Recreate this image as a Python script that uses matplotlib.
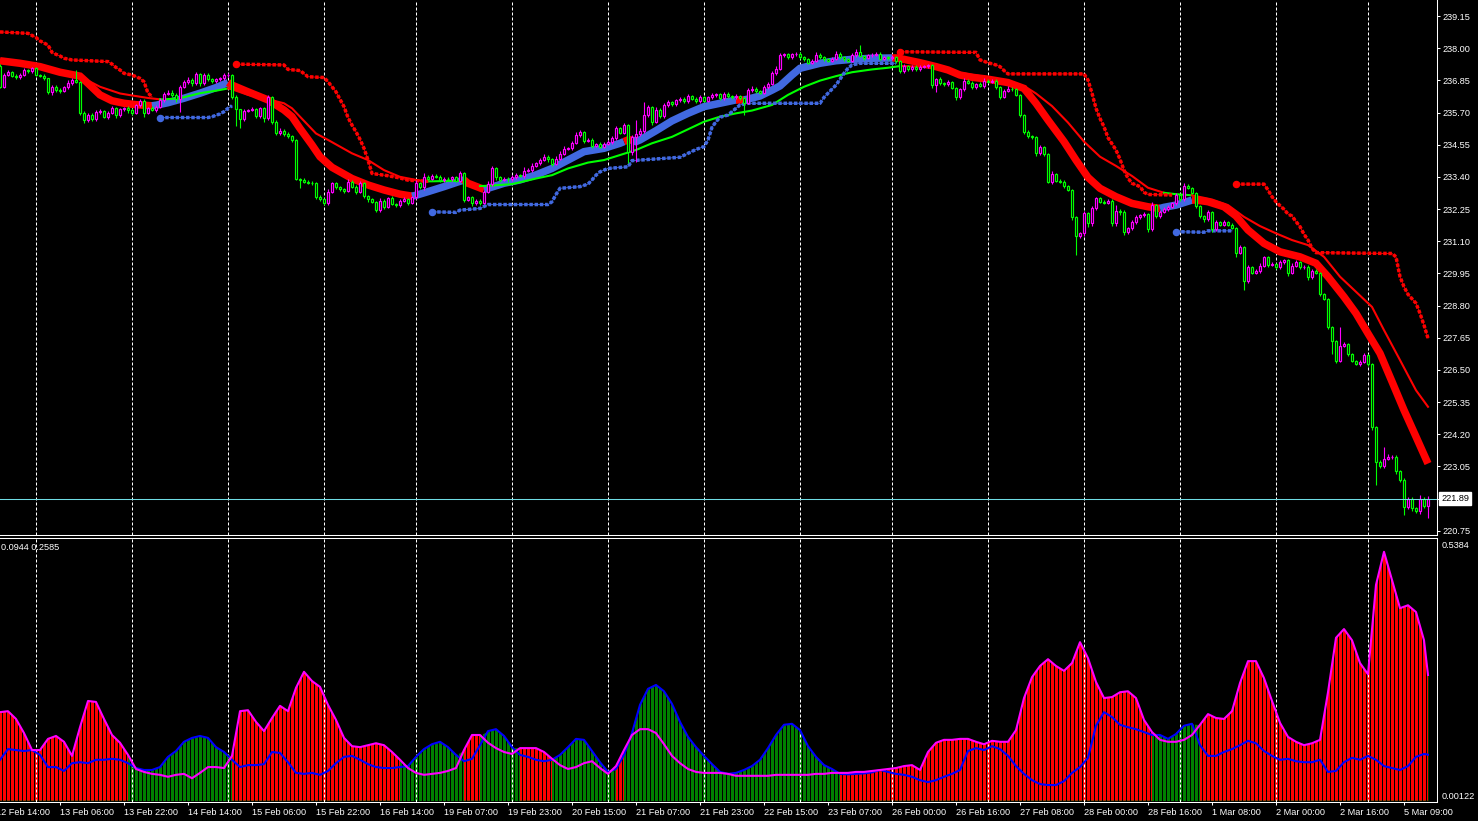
import numpy as np
import matplotlib
matplotlib.use('Agg')
import matplotlib.pyplot as plt
from matplotlib.transforms import blended_transform_factory

plt.rcParams['font.family'] = ['Liberation Sans', 'DejaVu Sans']

# ---- price data (hourly candles, open = previous close) ----
first_open = 237.36
close = [
    236.62, 237.04, 237.16, 237.02, 236.96, 237.05, 237.22, 237.19, 237.28, 237.04,
    237.00, 236.92, 236.42, 236.62, 236.50, 236.48, 236.60, 236.77, 236.86, 236.80,
    235.69, 235.43, 235.61, 235.46, 235.73, 235.74, 235.55, 235.69, 235.85, 235.60,
    235.82, 235.85, 235.79, 235.69, 235.96, 236.12, 235.69, 235.85, 235.79, 235.91,
    236.15, 236.36, 236.41, 236.33, 236.17, 236.62, 236.78, 236.86, 236.74, 237.08,
    236.74, 237.04, 236.89, 236.81, 236.89, 236.92, 237.04, 237.05, 236.27, 235.81,
    235.46, 235.77, 235.79, 235.82, 235.57, 235.85, 235.49, 236.24, 235.37, 234.95,
    235.05, 234.93, 234.85, 234.72, 233.34, 233.29, 233.23, 233.19, 233.17, 232.69,
    232.59, 232.45, 232.87, 233.17, 233.02, 232.95, 232.90, 233.23, 233.05, 232.87,
    233.19, 232.71, 232.59, 232.51, 232.21, 232.55, 232.33, 232.63, 232.43, 232.39,
    232.55, 232.61, 232.47, 232.67, 233.17, 233.02, 233.40, 233.34, 233.43, 233.40,
    233.28, 233.34, 233.31, 233.38, 233.26, 233.52, 232.57, 232.67, 232.45, 232.55,
    232.47, 232.87, 233.14, 233.70, 233.38, 233.29, 233.34, 233.31, 233.40, 233.46,
    233.43, 233.62, 233.64, 233.80, 233.88, 234.00, 234.12, 234.02, 233.86, 234.05,
    234.22, 234.41, 234.42, 234.60, 234.89, 234.99, 234.69, 234.72, 234.50, 234.57,
    234.48, 234.59, 234.64, 234.78, 235.13, 234.98, 235.24, 234.30, 234.83, 234.93,
    235.05, 235.60, 235.88, 235.37, 235.79, 235.57, 235.96, 236.07, 236.00, 236.13,
    236.19, 236.10, 236.29, 236.19, 236.10, 236.25, 236.12, 236.24, 236.31, 236.35,
    236.21, 236.36, 236.28, 236.24, 236.29, 236.21, 236.05, 236.50, 236.55, 236.47,
    236.41, 236.61, 236.73, 237.10, 237.27, 237.74, 237.78, 237.67, 237.78, 237.80,
    237.67, 237.60, 237.48, 237.55, 237.77, 237.67, 237.60, 237.55, 237.62, 237.79,
    237.67, 237.60, 237.55, 237.74, 237.86, 237.72, 237.65, 237.74, 237.76, 237.80,
    237.62, 237.67, 237.64, 237.67, 237.53, 237.19, 237.36, 237.24, 237.34, 237.25,
    237.34, 237.35, 237.39, 236.68, 236.90, 236.74, 236.71, 236.79, 236.58, 236.24,
    236.53, 236.84, 236.77, 236.60, 236.72, 236.65, 236.84, 236.80, 236.84, 236.60,
    236.27, 236.48, 236.55, 236.53, 236.33, 235.61, 235.01, 234.86, 234.81, 234.24,
    234.45, 234.22, 233.23, 233.50, 233.26, 233.23, 233.07, 232.93, 231.95, 231.28,
    231.38, 232.09, 231.74, 232.27, 232.63, 232.51, 232.48, 232.55, 231.74, 232.19,
    232.15, 231.44, 231.56, 231.78, 231.96, 232.02, 232.08, 231.52, 232.38, 232.00,
    232.14, 232.24, 232.33, 232.45, 232.74, 232.59, 233.09, 233.00, 232.83, 232.36,
    232.00, 231.88, 232.14, 231.52, 231.78, 231.69, 231.78, 231.69, 231.58, 230.69,
    230.88, 229.69, 230.16, 229.97, 230.04, 230.23, 230.52, 230.25, 230.28, 230.16,
    230.35, 230.41, 229.97, 230.23, 230.35, 230.16, 230.19, 229.81, 230.04, 229.97,
    229.21, 229.04, 228.04, 227.54, 226.83, 227.37, 227.42, 227.06, 226.83, 226.71,
    226.78, 227.02, 226.71, 224.46, 223.21, 223.06, 223.32, 223.38, 223.39, 222.87,
    222.58, 221.60, 221.89, 221.56, 221.44, 221.89, 221.63, 221.89,
]
# wick lengths beyond the body, in cents
wick_hi = [
    6, 8, 5, 4, 6, 5, 8, 4, 6, 5, 4, 6, 3, 8, 5, 6, 5, 10, 8, 35,
    4, 5, 8, 6, 5, 10, 6, 5, 8, 6, 4, 5, 8, 6, 5, 6, 5, 6, 8, 6,
    8, 6, 8, 10, 6, 6, 8, 10, 6, 8, 5, 6, 8, 6, 6, 5, 8, 6, 4, 5,
    3, 6, 5, 8, 5, 6, 5, 8, 5, 6, 8, 5, 6, 5, 4, 3, 6, 5, 6, 4,
    5, 6, 8, 6, 5, 6, 5, 8, 6, 5, 6, 4, 5, 6, 4, 8, 5, 6, 8, 5,
    6, 8, 5, 6, 10, 5, 12, 6, 8, 6, 5, 6, 5, 6, 5, 10, 4, 6, 5, 6,
    5, 6, 10, 8, 6, 5, 6, 5, 6, 8, 5, 14, 6, 8, 6, 8, 10, 6, 5, 8,
    10, 8, 6, 8, 10, 8, 5, 6, 6, 5, 6, 5, 6, 8, 10, 6, 10, 4, 8, 50,
    8, 49, 10, 6, 12, 6, 8, 6, 5, 6, 8, 6, 6, 5, 6, 8, 5, 6, 8, 6,
    5, 8, 6, 6, 6, 5, 4, 8, 10, 6, 5, 8, 6, 10, 8, 8, 6, 5, 6, 8,
    5, 5, 6, 6, 8, 6, 5, 6, 6, 10, 8, 6, 5, 8, 10, 24, 5, 6, 6, 8,
    5, 6, 6, 8, 5, 4, 6, 5, 6, 5, 6, 5, 6, 4, 5, 6, 5, 8, 5, 4,
    6, 8, 5, 6, 5, 6, 8, 6, 5, 4, 5, 6, 8, 5, 6, 4, 4, 5, 5, 4,
    8, 5, 3, 10, 4, 5, 4, 4, 3, 4, 6, 8, 5, 8, 6, 6, 5, 6, 4, 20,
    6, 6, 5, 8, 6, 6, 6, 4, 12, 5, 6, 8, 8, 6, 8, 6, 10, 6, 5, 4,
    4, 4, 8, 4, 6, 5, 6, 5, 5, 4, 8, 4, 8, 5, 6, 8, 6, 5, 6, 5,
    8, 6, 4, 8, 6, 5, 6, 5, 8, 6, 4, 4, 3, 4, 4, 67, 6, 5, 5, 4,
    8, 10, 5, 4, 4, 5, 43, 10, 8, 5, 4, 4, 8, 6, 5, 12, 8, 10,
]
wick_lo = [
    6, 5, 5, 4, 6, 5, 4, 8, 6, 5, 4, 5, 6, 8, 5, 8, 5, 6, 8, 4,
    8, 12, 6, 5, 6, 8, 6, 8, 5, 8, 6, 5, 10, 8, 4, 6, 14, 6, 5, 6,
    6, 8, 5, 6, 8, 45, 6, 5, 8, 6, 8, 5, 6, 5, 6, 5, 6, 6, 8, 60,
    32, 5, 6, 5, 8, 6, 12, 6, 8, 6, 5, 6, 6, 8, 6, 30, 6, 5, 6, 8,
    5, 6, 5, 6, 5, 6, 8, 5, 6, 8, 5, 6, 8, 5, 6, 5, 8, 6, 5, 6,
    6, 5, 8, 5, 6, 6, 8, 5, 6, 5, 6, 8, 5, 6, 5, 4, 6, 5, 8, 6,
    6, 5, 6, 5, 8, 6, 5, 8, 5, 6, 5, 6, 5, 6, 5, 6, 5, 8, 6, 5,
    6, 5, 6, 5, 4, 6, 8, 5, 6, 5, 6, 5, 6, 6, 5, 6, 5, 42, 12, 90,
    6, 8, 5, 12, 6, 8, 5, 6, 5, 6, 5, 6, 5, 6, 5, 6, 5, 6, 5, 6,
    6, 5, 6, 5, 6, 6, 44, 5, 6, 8, 6, 5, 6, 5, 6, 5, 6, 5, 6, 5,
    6, 5, 6, 5, 6, 6, 5, 6, 5, 6, 6, 5, 6, 5, 6, 5, 6, 5, 6, 5,
    6, 5, 6, 5, 6, 8, 6, 5, 6, 5, 6, 5, 6, 10, 24, 6, 5, 6, 5, 8,
    6, 5, 6, 5, 6, 5, 6, 5, 6, 5, 8, 6, 5, 6, 5, 6, 8, 6, 5, 8,
    6, 8, 6, 10, 6, 5, 6, 5, 10, 68, 8, 10, 12, 8, 6, 5, 6, 5, 10, 8,
    10, 12, 8, 6, 5, 6, 5, 8, 6, 8, 6, 5, 6, 5, 6, 5, 6, 5, 6, 8,
    6, 8, 6, 10, 6, 5, 6, 5, 6, 15, 6, 33, 8, 6, 5, 6, 5, 6, 5, 6,
    6, 5, 10, 6, 5, 6, 5, 8, 6, 5, 8, 6, 8, 48, 8, 6, 5, 8, 6, 5,
    6, 5, 6, 12, 83, 6, 8, 5, 6, 8, 10, 30, 6, 10, 5, 8, 6, 43,
]
last_price = 221.89

# ---- thick trend band (1 = rising/blue, 0 = falling/red) ----
band_bars = [0, 5, 10, 15, 20, 22, 25, 28, 31, 34, 38,
             39, 42, 46, 50, 54, 57,
             58, 62, 67, 71, 73, 75, 78, 80, 83, 85, 88, 92, 96, 100, 103,
             104, 107, 111, 116,
             117, 121,
             122, 126, 130, 134, 138, 142, 146, 151, 155, 156,
             157, 158,
             159, 160, 164, 168, 172, 176, 180, 184,
             185, 186,
             187, 190, 193, 195, 198, 200, 205, 209, 213, 218, 223,
             224, 226, 230, 234, 237, 240, 243, 247, 252, 256, 259, 262, 266, 269, 272, 275, 279, 283, 287, 290,
             291, 294, 298,
             299, 302, 306, 309, 312, 316, 320, 325, 329, 332, 336, 339, 342, 345, 348, 351, 354, 357]
band_vals = [237.55, 237.46, 237.34, 237.14, 237.00, 236.74, 236.33, 236.12, 236.03, 235.98, 235.94,
             235.96, 236.05, 236.21, 236.39, 236.59, 236.77,
             236.68, 236.44, 236.15, 235.79, 235.55, 235.13, 234.54, 234.12, 233.74, 233.58, 233.34, 233.11, 232.93, 232.78, 232.71,
             232.74, 232.87, 233.05, 233.29,
             233.17, 232.95,
             232.99, 233.17, 233.29, 233.47, 233.70, 234.00, 234.30, 234.42, 234.60, 234.66,
             234.72, 234.72,
             234.66, 234.72, 235.05, 235.40, 235.67, 235.91, 236.03, 236.15,
             236.15, 236.15,
             236.18, 236.29, 236.50, 236.65, 237.04, 237.28, 237.46, 237.55, 237.60, 237.64, 237.65,
             237.65, 237.60, 237.48, 237.34, 237.22, 237.04, 236.96, 236.89, 236.77, 236.56, 236.03, 235.43, 234.66, 234.00, 233.38, 232.99, 232.69, 232.45, 232.33, 232.27,
             232.31, 232.39, 232.57,
             232.57, 232.51, 232.33, 232.00, 231.50, 231.02, 230.72, 230.54, 230.31, 229.83, 229.11, 228.52, 227.80, 227.09, 226.08, 225.06, 224.11, 223.15]
band_up = [0] * 11 + [1] * 6 + [0] * 15 + [1] * 4 + [0] * 2 + [1] * 10 + [0] * 2 + \
          [1] * 8 + [0] * 2 + [1] * 11 + [0] * 20 + [1] * 3 + [0] * 18

# ---- thin moving average (1 = rising/green, 0 = falling/red) ----
ma_bars = [0, 8, 17, 20, 22, 25, 30, 33, 37, 40,
           41, 45, 50, 54, 57,
           58, 62, 67, 71, 73, 75, 79, 82, 85, 88, 92, 96, 100, 104, 107,
           108, 115,
           116, 120,
           122, 128, 134, 138, 142, 147, 151, 155, 159, 163, 168, 172, 176, 180, 184, 188, 193, 197, 201, 205, 209, 213, 218, 222, 225,
           226, 230, 234, 237, 240, 246, 254, 257, 259, 263, 267, 271, 275, 279, 283, 287, 291,
           294, 298,
           299, 303, 307, 311, 315, 319, 323, 327, 331, 335, 339, 343, 346, 350, 354, 357]
ma_vals = [237.60, 237.34, 237.10, 237.03, 236.84, 236.62, 236.38, 236.31, 236.22, 236.17,
           236.17, 236.21, 236.39, 236.48, 236.56,
           236.53, 236.33, 236.17, 236.03, 235.85, 235.55, 234.95, 234.72, 234.48, 234.24, 234.00, 233.64, 233.40, 233.29, 233.24,
           233.24, 233.26,
           233.19, 233.07,
           233.08, 233.14, 233.34, 233.46, 233.70, 233.91, 234.00, 234.18, 234.36, 234.60, 234.83, 235.10, 235.37, 235.55, 235.67, 235.77, 235.97, 236.33, 236.62, 236.84, 237.00, 237.14, 237.24, 237.30, 237.36,
           237.36, 237.34, 237.28, 237.22, 237.12, 236.98, 236.74, 236.56, 236.38, 235.93, 235.34, 234.66, 234.12, 233.79, 233.43, 233.01, 232.83,
           232.78, 232.74,
           232.71, 232.59, 232.39, 231.97, 231.64, 231.38, 231.14, 230.96, 230.54, 229.83, 229.29, 228.75, 227.92, 226.85, 225.77, 225.18]
ma_up = [0] * 10 + [1] * 5 + [0] * 15 + [1] * 2 + [0] * 2 + [1] * 25 + [0] * 17 + [1] * 2 + [0] * 16

# ---- trailing stop dots (1 = below price/blue, 0 = above price/red) ----
stop_bars = [0, 7, 9, 10, 12, 13, 14, 15, 16, 18, 27, 28, 29, 30, 31, 33, 34, 35, 36, 37, 38,
             40, 52, 53, 55, 56, 57, 58,
             59, 71, 72, 75, 77, 81, 82, 84, 85, 86, 87, 88, 89, 90, 91, 92, 93, 97, 100, 102, 107,
             108, 114, 115, 120, 122, 137, 138, 139, 140, 145, 147, 148, 149, 150, 152, 157, 158, 170,
             172, 174, 176, 177, 178, 179, 180, 182, 184, 185, 187, 205, 206, 207, 209, 211, 212, 213, 215, 224,
             225, 244, 245, 247, 249, 250, 251, 252, 271, 272, 273, 274, 275, 276, 277, 279, 280, 281, 282, 283,
             285, 286, 287, 293,
             294, 301, 302, 308,
             309, 316, 317, 318, 319, 320, 321, 322, 323, 324, 325, 326, 327, 328, 329, 348, 349, 350, 351, 352,
             354, 355, 356, 357]
stop_vals = [238.58, 238.53, 238.38, 238.26, 238.11, 237.85, 237.78, 237.72, 237.64, 237.58, 237.52, 237.43, 237.31,
             237.22, 237.10, 237.04, 236.98, 236.92, 236.80, 236.39, 236.27,
             235.52, 235.52, 235.55, 235.65, 235.73, 235.85, 235.94,
             237.43, 237.40, 237.24, 237.20, 236.98, 236.95, 236.80, 236.44, 236.17, 235.91, 235.52, 235.25, 235.01,
             234.74, 234.42, 234.00, 233.52, 233.44, 233.36, 233.28, 233.24,
             232.15, 232.13, 232.21, 232.27, 232.41, 232.41, 232.51, 232.77, 232.99, 233.05, 233.14, 233.29, 233.46,
             233.58, 233.70, 233.76, 233.98, 234.10,
             234.24, 234.38, 234.48, 234.72, 235.17, 235.37, 235.53, 235.61, 235.85, 235.97, 236.03, 236.03, 236.24,
             236.39, 236.68, 237.10, 237.28, 237.40, 237.46, 237.46,
             237.87, 237.85, 237.58, 237.48, 237.40, 237.34, 237.20, 237.08, 237.08, 236.86, 236.39, 235.85, 235.49,
             235.19, 234.80, 234.36, 234.03, 233.64, 233.35, 233.17,
             233.05, 232.85, 232.77, 232.75,
             231.44, 231.42, 231.47, 231.47,
             233.14, 233.14, 232.93, 232.69, 232.51, 232.37, 232.24, 232.07, 232.00, 231.80, 231.62, 231.35, 231.14,
             230.84, 230.69, 230.66, 230.54, 229.83, 229.47, 229.20,
             228.88, 228.52, 228.10, 227.63]
stop_up = [0] * 21 + [1] * 7 + [0] * 21 + [1] * 38 + [0] * 24 + [1] * 4 + [0] * 24

# ---- oscillator window (sampled every second bar) ----
osc_bars = list(range(0, 357, 2)) + [357]
osc_mag = [
    .182, .184, .168, .139, .104, .104, .127, .133, .121, .092,
    .151, .205, .203, .168, .135, .119, .094, .065, .059, .055,
    .053, .049, .053, .055, .046, .057, .069, .069, .067, .092,
    .184, .186, .162, .143, .170, .195, .184, .232, .265, .246,
    .234, .197, .166, .129, .112, .110, .114, .118, .114, .100,
    .084, .067, .057, .053, .055, .057, .061, .067, .104, .135,
    .135, .119, .108, .100, .096, .108, .108, .108, .100, .086,
    .073, .065, .069, .077, .081, .067, .055, .071, .104, .135,
    .147, .147, .139, .116, .092, .077, .065, .059, .057, .057,
    .057, .055, .051, .051, .051, .051, .051, .053, .053, .053,
    .053, .053, .055, .055, .057, .057, .057, .059, .059, .061,
    .063, .065, .067, .071, .073, .063, .100, .119, .125, .125,
    .127, .127, .121, .116, .123, .121, .121, .145, .211, .254,
    .277, .291, .277, .267, .283, .326, .293, .244, .211, .213,
    .223, .225, .211, .166, .141, .125, .121, .121, .125, .135,
    .156, .178, .170, .168, .184, .242, .287, .287, .252, .205,
    .160, .131, .121, .114, .118, .125, .223, .335, .353, .330,
    .283, .260, .444, .512, .454, .396, .402, .388, .330, .2585,
]
osc_blue = [
    .084, .106, .104, .102, .104, .094, .069, .069, .061, .077,
    .079, .077, .084, .084, .086, .084, .077, .067, .063, .063,
    .069, .090, .102, .121, .129, .133, .129, .110, .100, .084,
    .069, .073, .073, .075, .100, .098, .079, .057, .055, .057,
    .053, .061, .077, .090, .092, .084, .075, .069, .067, .067,
    .069, .071, .090, .106, .116, .121, .110, .094, .081, .086,
    .114, .143, .147, .133, .110, .094, .090, .084, .081, .084,
    .094, .110, .127, .125, .102, .079, .059, .065, .094, .139,
    .197, .230, .238, .225, .199, .162, .131, .110, .092, .075,
    .059, .055, .057, .063, .071, .084, .108, .135, .156, .158,
    .145, .112, .090, .073, .065, .055, .054, .055, .056, .058,
    .063, .059, .055, .053, .049, .042, .038, .042, .049, .055,
    .063, .102, .108, .104, .112, .106, .092, .071, .055, .042,
    .034, .032, .032, .040, .057, .069, .088, .154, .182, .172,
    .156, .151, .147, .141, .135, .135, .127, .137, .154, .158,
    .114, .092, .092, .100, .106, .114, .123, .118, .102, .092,
    .084, .086, .081, .079, .079, .084, .059, .061, .079, .088,
    .084, .092, .084, .071, .067, .063, .071, .090, .096, .0944,
]

# ---- time axis ----
day_bars = [9, 33, 57, 81, 104, 128, 152, 176, 200, 223, 247, 271, 295, 319, 342]
date_bars = list(range(-1, 352, 16))
date_labels = ["12 Feb 14:00", "13 Feb 06:00", "13 Feb 22:00", "14 Feb 14:00", "15 Feb 06:00",
               "15 Feb 22:00", "16 Feb 14:00", "19 Feb 07:00", "19 Feb 23:00", "20 Feb 15:00",
               "21 Feb 07:00", "21 Feb 23:00", "22 Feb 15:00", "23 Feb 07:00", "26 Feb 00:00",
               "26 Feb 16:00", "27 Feb 08:00", "28 Feb 00:00", "28 Feb 16:00", "1 Mar 08:00",
               "2 Mar 00:00", "2 Mar 16:00", "5 Mar 09:00"]

RED = '#ff0000'
BLUE = '#4169e1'
LIME = '#00ff00'
MAG = '#ff00ff'
FS = 6.6


def runs(flags):
    out, s = [], 0
    for k in range(1, len(flags) + 1):
        if k == len(flags) or flags[k] != flags[s]:
            out.append((s, k))
            s = k
    return out


fig = plt.figure(figsize=(14.78, 8.21), dpi=100, facecolor='black')
W, H = 1478.0, 821.0
ax = fig.add_axes([0, 286 / H, 1437 / W, 535 / H], facecolor='black')
ax2 = fig.add_axes([0, 19 / H, 1437 / W, 264 / H], facecolor='black')
for a in (ax, ax2):
    a.set_xlim(0, 359.25)
    for s in a.spines.values():
        s.set_color('white')
        s.set_linewidth(0.75)
    a.spines['left'].set_visible(False)
    for b in day_bars:
        a.axvline(b, color='white', lw=0.72, ls=(0, (3, 2)), zorder=2.5)
ax.spines['top'].set_visible(False)

# ---- upper panel ----
ax.set_ylim(220.596, 239.722)
c = np.array(close)
o = np.r_[first_open, c[:-1]]
hi = np.maximum(o, c) + np.array(wick_hi) / 100.0
lo = np.minimum(o, c) - np.array(wick_lo) / 100.0
x = np.arange(len(c))
cols = np.where(c >= o, MAG, LIME)

bx, bv = np.array(band_bars), np.array(band_vals)
for s, e in runs(band_up):
    s0 = max(s - 1, 0)
    ax.plot(bx[s0:e], bv[s0:e], color=BLUE if band_up[s] else RED, lw=5.4,
            solid_capstyle='butt', solid_joinstyle='miter', zorder=3)

mx, mv = np.array(ma_bars), np.array(ma_vals)
for s, e in runs(ma_up):
    s0 = max(s - 1, 0)
    ax.plot(mx[s0:e], mv[s0:e], color=LIME if ma_up[s] else RED, lw=1.5, zorder=3.2)

sx, sv = np.array(stop_bars), np.array(stop_vals)
for n, (s, e) in enumerate(runs(stop_up)):
    col = BLUE if stop_up[s] else RED
    ax.plot(sx[s:e], sv[s:e], color=col, lw=0.6, zorder=3.3)
    ax.plot(sx[s:e], sv[s:e], color=col, lw=2.5, ls=(0, (1, 0.5)),
            dash_capstyle='butt', zorder=3.3)
    if n > 0:
        ax.plot(sx[s], sv[s], 'o', color=col, ms=4.4, zorder=3.4)

ax.vlines(x, lo, hi, colors=cols, lw=0.8, zorder=4)
ax.bar(x, np.abs(c - o), bottom=np.minimum(o, c), width=0.55, color='black',
       edgecolor=cols, linewidth=0.85, zorder=4.5)

ax.axhline(last_price, color='#6fdce4', lw=0.75, zorder=5)

ticks = np.round(np.arange(220.75, 239.2, 1.15), 2)
ax.set_yticks(ticks)
ax.set_yticklabels(['%.2f' % t for t in ticks])
ax.yaxis.tick_right()
ax.tick_params(axis='y', colors='white', length=2.2, width=0.75, pad=1.5, labelsize=FS)
ax.set_xticks([])
tr = blended_transform_factory(ax.transAxes, ax.transData)
ax.text(1.0 + 4 / 1437, last_price, '%.2f' % last_price, transform=tr, ha='left', va='center',
        color='black', fontsize=FS, zorder=6,
        bbox=dict(boxstyle='square,pad=0.2', fc='white', ec='white'))

# ---- lower panel ----
ax2.set_ylim(-0.0029, 0.5404)
ox = np.array(osc_bars)
om = np.array(osc_mag)
ob = np.array(osc_blue)
top = np.maximum(om, ob)
ax2.fill_between(ox, 0, top, color='#008000', lw=0, zorder=1)
ax2.fill_between(ox, 0, top, where=om >= ob, color=RED, lw=0, zorder=1.1)
ax2.vlines(np.arange(len(c)) + 0.5, -0.01, 0.6, colors='black', lw=0.72,
           antialiased=False, zorder=1.5)
ax2.plot(ox, ob, color='#0000ff', lw=1.5, zorder=3)
ax2.plot(ox, om, color=MAG, lw=1.5, zorder=3.1)

ax2.set_yticks([])
ax2.set_xticks([b for b in date_bars if b >= 0])
ax2.tick_params(axis='x', colors='white', length=2.2, width=0.75, labelbottom=False)
for b, lab in zip(date_bars, date_labels):
    ax2.annotate(lab, xy=(b, 0), xycoords=ax2.get_xaxis_transform(), xytext=(0, -4.5),
                 textcoords='offset points', ha='left', va='top', color='white',
                 fontsize=FS, annotation_clip=False)

ax2.text(1 / 1437, (802 - 547) / 264, '%.4f %.4f' % (osc_blue[-1], osc_mag[-1]),
         transform=ax2.transAxes, ha='left', va='center', color='white', fontsize=FS)
fig.text(1442 / W, (H - 545) / H, '0.5384', ha='left', va='center', color='white', fontsize=FS)
fig.text(1442 / W, (H - 796) / H, '0.00122', ha='left', va='center', color='white', fontsize=FS)

fig.savefig('out.png', dpi=100, facecolor='black')
